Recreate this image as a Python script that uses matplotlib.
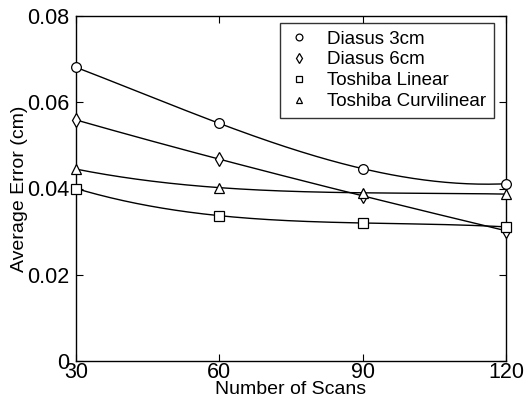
import numpy as np
import matplotlib
matplotlib.use("Agg")
import matplotlib.pyplot as plt

# -----------------------------
# Data
# -----------------------------
scans = [30, 60, 90, 120]
diasus_3cm = [0.0681, 0.0551, 0.0446, 0.0411]
diasus_6cm = [0.0559, 0.0468, 0.0383, 0.0302]
toshiba_linear = [0.0400, 0.0337, 0.0320, 0.0311]
toshiba_curvi = [0.0445, 0.0402, 0.0390, 0.0387]

series = [
    ("Diasus 3cm", diasus_3cm, "o"),
    ("Diasus 6cm", diasus_6cm, "d"),
    ("Toshiba Linear", toshiba_linear, "s"),
    ("Toshiba Curvilinear", toshiba_curvi, "^"),
]

plt.rcParams['font.family'] = ['Liberation Sans', 'DejaVu Sans']

fig = plt.figure(figsize=(5.31, 4.08), dpi=100)
ax = fig.add_axes([76 / 531, 1 - 361 / 408, 430 / 531, 345 / 408])

# smooth curve through the four points (cubic, like a not-a-knot spline)
xs = np.linspace(scans[0], scans[-1], 200)
for name, vals, mk in series:
    coef = np.polyfit(scans, vals, 3)
    ax.plot(xs, np.polyval(coef, xs), color="black", lw=1.0)
    ax.plot(scans, vals, linestyle="none", marker=mk, ms=7, mfc="white",
            mec="black", mew=0.9, label=name, clip_on=False, zorder=3)

ax.set_xlim(30, 120)
ax.set_ylim(0, 0.08)
ax.set_xticks(scans)
ax.set_yticks([0, 0.02, 0.04, 0.06, 0.08])
ax.set_yticklabels(["0", "0.02", "0.04", "0.06", "0.08"])
ax.tick_params(direction="in", top=True, right=True, labelsize=15.5, length=5)
ax.tick_params(axis="x", pad=1)
ax.tick_params(axis="y", pad=5)
for s in ax.spines.values():
    s.set_linewidth(1.0)

ax.set_xlabel("Number of Scans", fontsize=14, labelpad=-2)
ax.set_ylabel("Average Error (cm)", fontsize=14, labelpad=-1)

leg = ax.legend(loc="upper right", bbox_to_anchor=(0.972, 0.98), fontsize=13.5,
                frameon=True, fancybox=False, edgecolor="black",
                handlelength=1.2, markerscale=0.7, borderaxespad=0,
                labelspacing=0.2, borderpad=0.4, handletextpad=0.9)
leg.get_frame().set_linewidth(1.0)

fig.savefig("out.png", dpi=100)
